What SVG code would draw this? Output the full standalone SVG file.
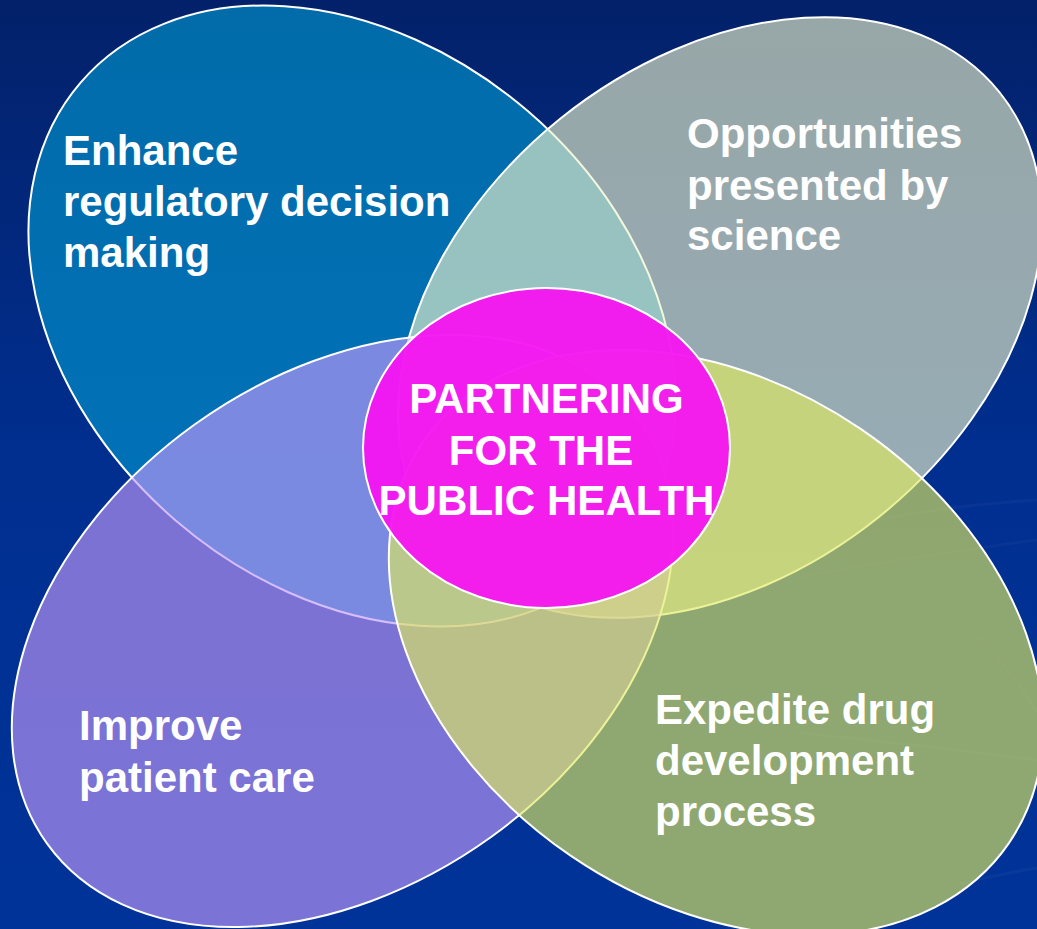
<svg xmlns="http://www.w3.org/2000/svg" width="1037" height="929" viewBox="0 0 1037 929">
<defs>
<linearGradient id="bg" x1="0" y1="0" x2="0" y2="1">
<stop offset="0" stop-color="#03216A"/>
<stop offset="0.5" stop-color="#002F90"/>
<stop offset="1" stop-color="#003399"/>
</linearGradient>
<style>
.petal{stroke:#ffffff;stroke-width:2;fill-opacity:0.64}
.lbl{font-family:"Liberation Sans",Arial,sans-serif;font-weight:bold;font-size:42px;fill:#ffffff}
.ctr{text-anchor:middle}
.streak{fill:none;stroke:#ffffff;stroke-opacity:0.03;stroke-width:3}
</style>
</defs>
<rect x="0" y="0" width="1037" height="929" fill="url(#bg)"/>
<g id="background-streaks">
<path class="streak" d="M860 523 Q950 505 1037 500"/>
<path class="streak" d="M800 577 Q920 555 1037 540"/>
<path class="streak" d="M800 733 Q920 745 1037 760"/>
<path class="streak" d="M970 630 Q1010 665 1037 713"/>
<path class="streak" d="M960 884 Q1000 874 1037 868"/>
</g>
<g id="node-regulatory">
<ellipse class="petal" cx="352" cy="316" rx="358" ry="270" transform="rotate(40.7 352 316)" fill="#0296CD"/>
<text class="lbl" x="63" y="165">Enhance</text>
<text class="lbl" x="63" y="216">regulatory decision</text>
<text class="lbl" x="63" y="267">making</text>
</g>
<g id="node-science">
<ellipse class="petal" cx="720" cy="317.5" rx="359" ry="255" transform="rotate(-38.9 720 317.5)" fill="#EDF3CA"/>
<text class="lbl" x="687" y="148">Opportunities</text>
<text class="lbl" x="687" y="200">presented by</text>
<text class="lbl" x="687" y="250">science</text>
</g>
<g id="node-patient">
<ellipse class="petal" cx="342.5" cy="631" rx="364" ry="254" transform="rotate(-35.7 342.5 631)" fill="#C097F8"/>
<text class="lbl" x="79" y="740">Improve</text>
<text class="lbl" x="79" y="792">patient care</text>
</g>
<g id="node-drug">
<ellipse class="petal" cx="716" cy="642.5" rx="355" ry="258" transform="rotate(34.4 716 642.5)" fill="#DFEA5C"/>
<text class="lbl" x="655" y="724">Expedite drug</text>
<text class="lbl" x="655" y="775">development</text>
<text class="lbl" x="655" y="826">process</text>
</g>
<g id="node-center">
<ellipse cx="546.5" cy="448" rx="183.5" ry="160" fill="#F614F1" fill-opacity="0.95" stroke="#ffffff" stroke-width="2"/>
<text class="lbl ctr" x="546.5" y="413">PARTNERING</text>
<text class="lbl ctr" x="541" y="465">FOR THE</text>
<text class="lbl ctr" x="546.5" y="515" textLength="336" lengthAdjust="spacingAndGlyphs">PUBLIC HEALTH</text>
</g>
</svg>
